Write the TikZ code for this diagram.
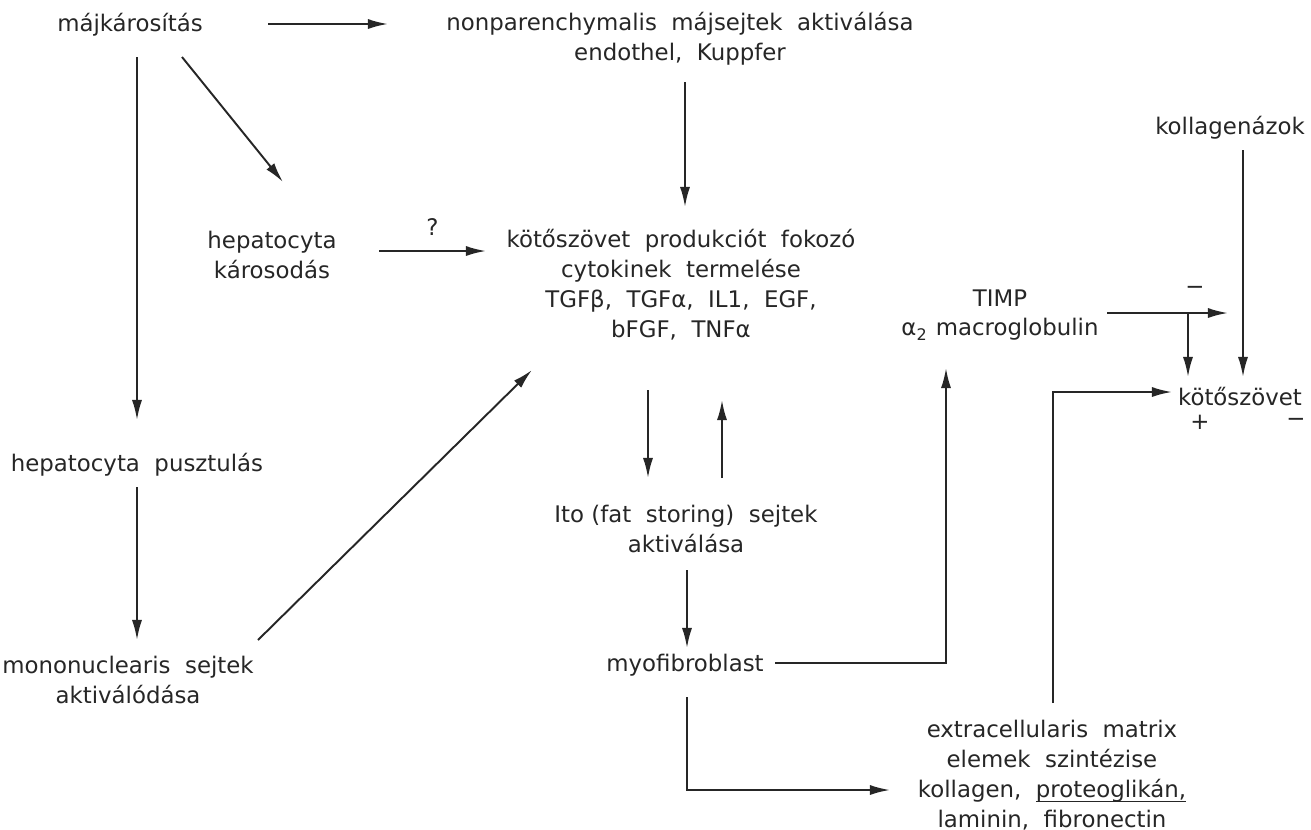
\documentclass[tikz,border=0pt]{standalone}
\usepackage{fontspec}
\setmainfont{DejaVu Sans}
\usetikzlibrary{arrows.meta}

\newcommand\ulmark[1]{\setbox0\hbox{#1}\rlap{\rule[-1.3pt]{\wd0}{0.35pt}}\box0}

\tikzset{
  lbl/.style={align=center,inner sep=0pt,text=black!85,font=\fontsize{6.5}{8.5}\selectfont},
  arr/.style={-{Latex[length=2mm,width=1mm]},line width=0.55pt,draw=black!85},
}

\begin{document}
\begin{tikzpicture}[x=0.01cm,y=-0.01cm]
      \useasboundingbox (0,0) rectangle (1311,830);

      \draw (130,25) node [lbl] (maj) {májkárosítás};
      \draw (680,39) node [lbl] (nonp)
      {nonparenchymalis \ májsejtek \ aktiválása\\ endothel, \ Kuppfer};
      \draw (1230,128) node [lbl] (kollag) {kollagenázok};

      \draw (272,255) node [lbl] (hepk) {hepatocyta\\károsodás};
      \draw (681,285) node [lbl] (cyto)
      {kötőszövet \ produkciót \ fokozó\\
       cytokinek \ termelése\\
       TGFβ, \ TGFα, \ IL1, \ EGF,\\
       bFGF, \ TNFα};
      \draw (1000,315) node [lbl] (timp) {TIMP\\α\textsubscript{2} macroglobulin};
      \draw (1240,397) node [lbl] (kot) {kötőszövet};
      \draw (1200,422) node [lbl] (plus) {+};
      \draw (1296,422) node [lbl] (minus) {−};
      \draw (1195,290) node [lbl] (gatl) {−};

      \draw (137,465) node [lbl] (hepp) {hepatocyta \ pusztulás};
      \draw (128,680) node [lbl] (mono) {mononuclearis \ sejtek\\aktiválódása};
      \draw (686,529) node [lbl] (ito) {Ito (fat \ storing) \ sejtek\\aktiválása};
      \draw (685,665) node [lbl] (myo) {myofibroblast};
      \draw (1052,775) node [lbl] (ecm)
      {extracellularis \ matrix\\
       elemek \ szintézise\\
       kollagen, \ \ulmark{proteoglikán,}\\
       laminin, \ fibronectin};

      \scope[arr]
        \draw ([shift={(138,-1)}]maj.center) -- ([shift={(-292,-15)}]nonp.center);
        \draw ([shift={(52,32)}]maj.center) -- ([shift={(11,-73)}]hepk.center);
        \draw ([shift={(7,32)}]maj.center) -- ([shift={(0,-45)}]hepp.center);
        \draw ([shift={(5,43)}]nonp.center) -- ([shift={(4,-78)}]cyto.center);
        \draw ([shift={(107,-4)}]hepk.center) -- node [lbl,above=4pt] (qm) {?}
              ([shift={(-195,-34)}]cyto.center);
        \draw ([shift={(0,22)}]hepp.center) -- ([shift={(9,-40)}]mono.center);
        \draw ([shift={(130,-40)}]mono.center) -- ([shift={(-149,85)}]cyto.center);
        \draw ([shift={(-33,105)}]cyto.center) -- ([shift={(-38,-51)}]ito.center);
        \draw ([shift={(36,-51)}]ito.center) -- ([shift={(41,115)}]cyto.center);
        \draw ([shift={(1,41)}]ito.center) -- ([shift={(2,-17)}]myo.center);
        \draw ([shift={(90,-2)}]myo.center) -| ([shift={(-54,53)}]timp.center);
        \draw ([shift={(2,32)}]myo.center) |- ([shift={(-162,15)}]ecm.center);
        \draw ([shift={(1,-72)}]ecm.center) |- ([shift={(-68,-5)}]kot.center);
        \draw ([shift={(107,-2)}]timp.center) -- ([shift={(-2,185)}]kollag.center);
        \draw ([shift={(188,-2)}]timp.center) -- ([shift={(-52,-20)}]kot.center);
        \draw ([shift={(13,22)}]kollag.center) -- ([shift={(3,-20)}]kot.center);
      \endscope
\end{tikzpicture}
\end{document}
